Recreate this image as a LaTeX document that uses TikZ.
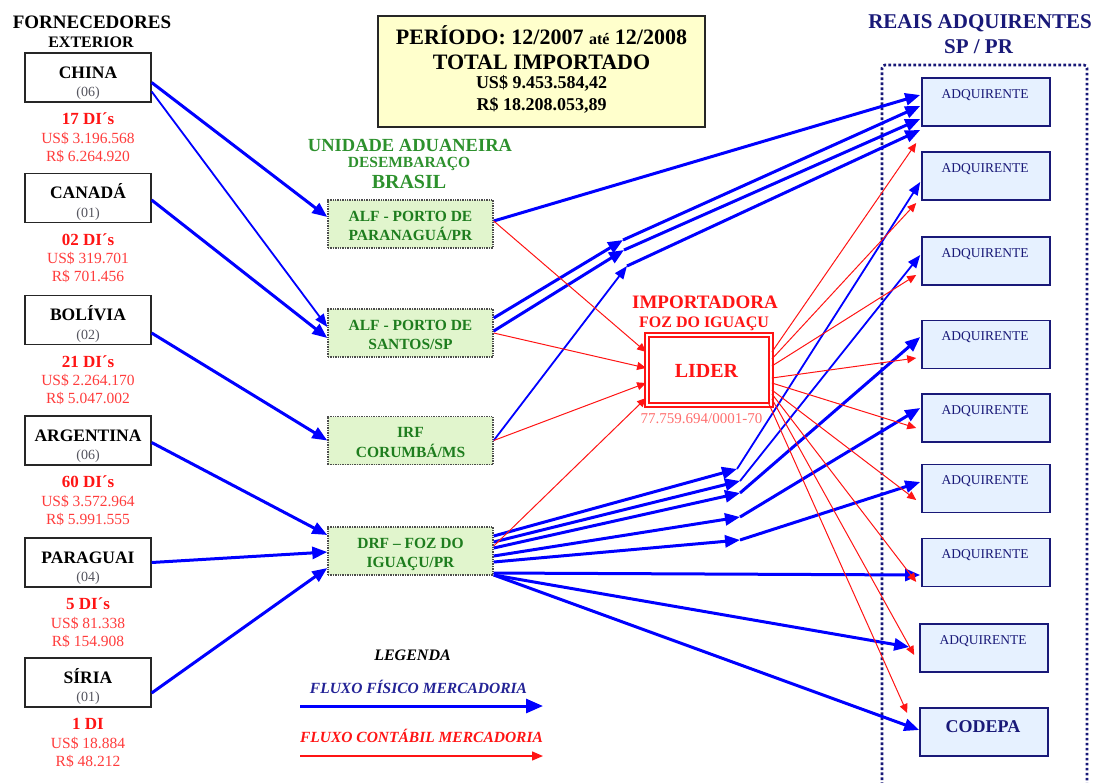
\documentclass[tikz,border=0pt]{standalone}
\usepackage{fontspec}
\setmainfont{Liberation Serif}
\usetikzlibrary{arrows.meta,calc}
\definecolor{fblue}{RGB}{0,0,255}
\definecolor{fred}{RGB}{255,20,20}
\definecolor{lred}{RGB}{255,60,60}
\definecolor{pred}{RGB}{255,110,110}
\definecolor{navy}{RGB}{25,25,120}
\definecolor{lnavy}{RGB}{35,35,150}
\definecolor{dgreen}{RGB}{30,125,30}
\definecolor{tgreen}{RGB}{45,145,45}
\definecolor{lgreen}{RGB}{225,245,205}
\definecolor{lblue}{RGB}{230,241,255}
\definecolor{lyellow}{RGB}{255,255,204}
\definecolor{gnum}{RGB}{85,85,95}
\newcommand\fs[1]{\fontsize{#1}{#1}\selectfont}
\newcommand\supplier[7]{%
  \node[supbox] (#1) at (88,#2) {};
  \node[supname] (#1n) at (88,#2+0.6) {#3};
  \node[supnum] (#1c) at (88,#2+19.2) {#4};
  \node[di] (#1d) at (88,#2+47.1) {#5};
  \node[amt] (#1u) at (88,#2+65.7) {#6};
  \node[amt] (#1r) at (88,#2+83.7) {#7};
}
\newcommand\customs[4]{%
  \node[custom] (#1) at (410.5,#2) {};
  \node[ctext] (#1a) at (410.5,#2-2.9) {#3};
  \node[ctext] (#1b) at (410.5,#2+16.6) {#4};
}
\newcommand\adquirente[3]{%
  \node[adq] (#1) at (#2,#3) {};
  \node[adqtext] (#1t) at (#2-1,#3-4) {ADQUIRENTE};
}
\begin{document}
\begin{tikzpicture}[x=1pt,y=-1pt,
 txt/.style={inner sep=0pt,anchor=base},
 supbox/.style={draw=black!85,line width=1.3pt,fill=white,minimum width=126pt,minimum height=49pt,inner sep=0pt},
 supname/.style={txt,font=\fs{17.5}\bfseries},
 supnum/.style={txt,font=\fs{14},text=gnum},
 di/.style={txt,font=\fs{17}\bfseries,text=fred},
 amt/.style={txt,font=\fs{15.5},text=lred},
 custom/.style={draw=black!70,densely dotted,line width=1.4pt,fill=lgreen,minimum width=165pt,minimum height=48pt,inner sep=0pt},
 ctext/.style={txt,font=\fs{15.5}\bfseries,text=dgreen},
 adq/.style={draw=navy,line width=1.6pt,fill=lblue,minimum width=128pt,minimum height=48pt,inner sep=0pt},
 adqtext/.style={txt,font=\fs{13.5},text=navy},
 phys/.style={draw=fblue,line width=3pt,-{Triangle[length=15pt,width=12pt]}},
 physthin/.style={draw=fblue,line width=1.8pt,-{Triangle[length=13pt,width=10pt]}},
 acct/.style={draw=fred,line width=1pt,-{Triangle[length=9pt,width=8pt]}},
]
\useasboundingbox (0,0) rectangle (1102,782);
% titles
\node[txt,font=\fs{19}\bfseries] (tforn) at (92,28) {FORNECEDORES};
\node[txt,font=\fs{16}\bfseries] (text) at (91,47) {EXTERIOR};
\node[txt,font=\fs{21}\bfseries,text=navy] (treais) at (980,28) {REAIS ADQUIRENTES};
\node[txt,font=\fs{21}\bfseries,text=navy] (tsp) at (978.5,53) {SP / PR};
\node[txt,font=\fs{18.5}\bfseries,text=tgreen] (tuni) at (410,151) {UNIDADE ADUANEIRA};
\node[txt,font=\fs{15.5}\bfseries,text=tgreen] (tdes) at (409,167) {DESEMBARAÇO};
\node[txt,font=\fs{20}\bfseries,text=tgreen] (tbra) at (409,188) {BRASIL};
% period box
\node[draw=black!85,line width=1.5pt,fill=lyellow,minimum width=327pt,minimum height=111pt,inner sep=0pt] (period) at (541.5,71.5) {};
\node[txt,font=\fs{22}\bfseries] (per1) at (541.5,44.5) {PERÍODO: 12/2007 {\fs{16}até} 12/2008};
\node[txt,font=\fs{22}\bfseries] (per2) at (541.5,69.5) {TOTAL IMPORTADO};
\node[txt,font=\fs{18}\bfseries] (per3) at (541.5,88) {US\$ 9.453.584,42};
\node[txt,font=\fs{18}\bfseries] (per4) at (541.5,110) {R\$ 18.208.053,89};
% container
\draw[navy,line width=2.6pt,dash pattern=on 2.6pt off 2.4pt,rounded corners=3pt] (882,790) -- (882,65) -- (1087,65) -- (1087,790);
% suppliers
\supplier{china}{77.5}{CHINA}{(06)}{17 DI´s}{US\$ 3.196.568}{R\$ 6.264.920}
\supplier{canada}{198}{CANADÁ}{(01)}{02 DI´s}{US\$ 319.701}{R\$ 701.456}
\supplier{bolivia}{320}{BOLÍVIA}{(02)}{21 DI´s}{US\$ 2.264.170}{R\$ 5.047.002}
\supplier{argentina}{440.5}{ARGENTINA}{(06)}{60 DI´s}{US\$ 3.572.964}{R\$ 5.991.555}
\supplier{paraguai}{562.5}{PARAGUAI}{(04)}{5 DI´s}{US\$ 81.338}{R\$ 154.908}
\supplier{siria}{682.5}{SÍRIA}{(01)}{1 DI}{US\$ 18.884}{R\$ 48.212}
% customs
\customs{para}{224}{ALF - PORTO DE}{PARANAGUÁ/PR}
\customs{santos}{333}{ALF - PORTO DE}{SANTOS/SP}
\customs{irf}{440.5}{IRF}{CORUMBÁ/MS}
\customs{drf}{551}{DRF – FOZ DO}{IGUAÇU/PR}
% lider
\node[txt,font=\fs{19}\bfseries,text=fred] (timp) at (705,308) {IMPORTADORA};
\node[txt,font=\fs{16}\bfseries,text=fred] (tfoz) at (704,327) {FOZ DO IGUAÇU};
\node[draw=fred,line width=1.8pt,double=white,double distance=2.5pt,fill=white,minimum width=124pt,minimum height=70pt,inner sep=0pt] (lider) at (709,370) {};
\node[txt,font=\fs{20}\bfseries,text=fred] (lidert) at (706.5,377) {LIDER};
\node[txt,font=\fs{15},text=pred] (cnpj) at (701.5,423) {77.759.694/0001-70};
% adquirentes
\adquirente{adq1}{986}{102}
\adquirente{adq2}{986}{176}
\adquirente{adq3}{986}{261}
\adquirente{adq4}{986}{344.5}
\adquirente{adq5}{986}{418}
\adquirente{adq6}{986}{488.5}
\adquirente{adq7}{986}{562.5}
\adquirente{adq8}{984}{648}
\node[adq] (codepa) at (984,732) {};
\node[txt,font=\fs{18}\bfseries,text=navy] (codepat) at (983,732) {CODEPA};
% junctions
\coordinate (j1) at (623,240);
\coordinate (j2) at (624,250);
\coordinate (j3) at (627,266);
\coordinate (j4) at (737,469);
\coordinate (j5) at (740,481);
\coordinate (j6) at (740,493);
\coordinate (j7) at (740,517);
\coordinate (j8) at (740,540);
% physical flows: suppliers -> customs
\draw[phys] ($(china.east)+(0,5)$) -- ($(para.west)+(0,-7)$);
\draw[physthin] ($(china.east)+(0,14)$) -- ($(santos.west)+(0,-6)$);
\draw[phys] ($(canada.east)+(0,2)$) -- ($(santos.west)+(0,5)$);
\draw[phys] ($(bolivia.east)+(0,13)$) -- ($(irf.west)+(0,0)$);
\draw[phys] ($(argentina.east)+(0,2)$) -- ($(drf.west)+(0,-16)$);
\draw[phys] ($(paraguai.east)+(0,0)$) -- ($(drf.west)+(0,1)$);
\draw[phys] ($(siria.east)+(0,10.5)$) -- ($(drf.west)+(0,17)$);
% physical flows: customs -> adquirentes
\draw[phys] ($(para.east)+(0,-3)$) -- ($(adq1.west)+(-1,-7)$);
\draw[phys] ($(santos.east)+(0,-15)$) -- (j1);
\draw[phys] ($(santos.east)+(0,-2)$) -- (j2);
\draw[physthin] ($(irf.east)+(0,0)$) -- (j3);
\draw[phys] (j1) -- ($(adq1.west)+(-1,4)$);
\draw[phys] (j2) -- ($(adq1.west)+(-1,17)$);
\draw[phys] (j3) -- ($(adq1.west)+(-1,28)$);
\draw[phys] ($(drf.east)+(0,-15)$) -- (j4);
\draw[phys] ($(drf.east)+(0,-9)$) -- (j5);
\draw[phys] ($(drf.east)+(0,-3)$) -- (j6);
\draw[phys] ($(drf.east)+(0,5)$) -- (j7);
\draw[phys] ($(drf.east)+(0,11)$) -- (j8);
\draw[phys] ($(drf.east)+(0,22)$) -- ($(adq7.west)+(-1,12.5)$);
\draw[phys] ($(drf.east)+(0,24)$) -- ($(adq8.west)+(-10,-1)$);
\draw[phys] ($(drf.east)+(0,24)$) -- ($(codepa.west)+(0,-2)$);
\draw[physthin] (j4) -- ($(adq2.west)+(-1,6)$);
\draw[physthin] (j5) -- ($(adq3.west)+(-1,-6)$);
\draw[phys] (j6) -- ($(adq4.west)+(-1,-7.5)$);
\draw[phys] (j7) -- ($(adq5.west)+(-1,-10)$);
\draw[phys] (j8) -- ($(adq6.west)+(-1,-6.5)$);
% accounting flows
\draw[acct] ($(para.east)+(0,-3)$) -- ($(lider.west)+(0,-18)$);
\draw[acct] ($(santos.east)+(0,0)$) -- ($(lider.west)+(0,-2)$);
\draw[acct] ($(irf.east)+(0,0)$) -- ($(lider.west)+(0,13)$);
\draw[acct] ($(drf.east)+(0,-5)$) -- ($(lider.west)+(0,28)$);
\draw[acct] ($(lider.east)+(0,-18)$) -- ($(adq1.west)+(-5,41)$);
\draw[acct] ($(lider.east)+(0,-11)$) -- ($(adq2.west)+(-5,27)$);
\draw[acct] ($(lider.east)+(0,-4)$) -- ($(adq3.west)+(-5,14)$);
\draw[acct] ($(lider.east)+(0,8)$) -- ($(adq4.west)+(-5,13.5)$);
\draw[acct] ($(lider.east)+(0,13)$) -- ($(adq5.west)+(-5,10)$);
\draw[acct] ($(lider.east)+(0,20)$) -- ($(adq6.west)+(-5,11.5)$);
\draw[acct] ($(lider.south east)+(0,-12)$) -- ($(adq7.west)+(-5,19.5)$);
\draw[acct] ($(lider.south east)+(0,-7)$) -- ($(adq8.west)+(-5,7)$);
\draw[acct] ($(lider.south east)+(-3,-2)$) -- ($(codepa.west)+(-12,-19)$);
% legend
\node[txt,font=\fs{16}\bfseries\itshape] (leg) at (412.5,660) {LEGENDA};
\node[txt,font=\fs{15.5}\bfseries\itshape,text=lnavy] (legb) at (418.5,693) {FLUXO FÍSICO MERCADORIA};
\node[txt,font=\fs{15.5}\bfseries\itshape,text=fred] (legr) at (421.5,742) {FLUXO CONTÁBIL MERCADORIA};
\coordinate (lb1) at (300,706);
\coordinate (lb2) at (543,706);
\coordinate (lr1) at (300,756);
\coordinate (lr2) at (543,756);
\draw[draw=fblue,line width=3pt,-{Triangle[length=17pt,width=14pt]}] (lb1) -- (lb2);
\draw[draw=fred,line width=1.4pt,-{Triangle[length=11pt,width=9pt]}] (lr1) -- (lr2);
\end{tikzpicture}
\end{document}
